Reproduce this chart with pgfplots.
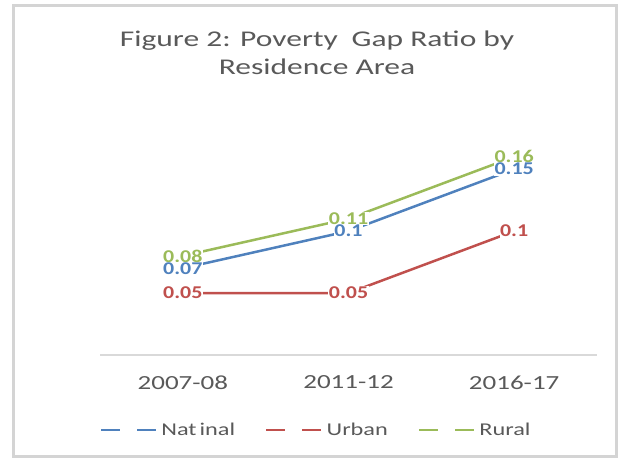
\documentclass[border=0pt]{standalone}
\usepackage{pgfplots}
\pgfplotsset{compat=1.18}
\usepackage{fontspec}
\setmainfont{Carlito}[FakeStretch=1.35]
\newfontfamily\titlefont{Carlito}[FakeStretch=1.4]
\newfontfamily\labfont{Carlito}[FakeStretch=1.22]

\definecolor{natcol}{HTML}{4F81BD}
\definecolor{urbcol}{HTML}{C0504D}
\definecolor{rurcol}{HTML}{9BBB59}
\definecolor{txtgray}{HTML}{595959}
\definecolor{axgray}{HTML}{D9D9D9}
\definecolor{framegray}{HTML}{D4D4D4}

\begin{document}
\begin{tikzpicture}[x=1bp,y=1bp]
\useasboundingbox (0,0) rectangle (621,459);
\draw[framegray, line width=2.5bp] (13.5,2.5) rectangle (616.5,453.5);

% chart title
\node[anchor=base, text=txtgray, font=\titlefont\fontsize{22.5bp}{27bp}\selectfont] at (317,412) {Figure 2: Poverty\hspace{0.3em} Gap Ratio by};
\node[anchor=base, text=txtgray, font=\titlefont\fontsize{22.5bp}{27bp}\selectfont] at (317,384) {Residence Area};

\begin{axis}[
  at={(100bp,104bp)}, anchor=south west,
  scale only axis, width=497bp, height=223bp,
  xmin=-0.5, xmax=2.5, ymin=0, ymax=0.18,
  axis y line=none, axis x line*=bottom,
  x axis line style={draw=axgray, line width=1.2bp, -},
  xtick={0,1,2}, xticklabels={2007-08,2011-12,2016-17},
  major tick length=0pt,
  xticklabel style={font=\fontsize{20bp}{24bp}\selectfont, text=txtgray, yshift=-17bp},
  clip=false,
  legend style={at={(0.435,-0.336)}, anchor=center, draw=none, fill=none,
    legend columns=-1, font=\fontsize{18bp}{21bp}\selectfont, text=txtgray,
    /tikz/every even column/.append style={column sep=28bp},
    /tikz/every odd column/.append style={column sep=-3bp}},
  legend image code/.code={
    \draw[#1, dash pattern=on 19bp off 17bp] (0bp,0bp) -- (60bp,0bp);},
  every axis plot/.append style={line width=2.5bp},
]
\addplot[natcol, mark=none] coordinates {(0,0.07) (1,0.1) (2,0.15)};
\addlegendentry{Nat\,inal}
\addplot[urbcol, mark=none] coordinates {(0,0.05) (1,0.05) (2,0.1)};
\addlegendentry{Urban}
\addplot[rurcol, mark=none] coordinates {(0,0.08) (1,0.11) (2,0.16)};
\addlegendentry{Rural}

% value labels, centred on the points over a white patch
\pgfplotsset{valuelabels/.style={forget plot, draw=none, mark=none,
  point meta=explicit symbolic, nodes near coords,
  nodes near coords style={anchor=center, fill=white, inner sep=0.6bp,
    font=\labfont\bfseries\fontsize{18bp}{20bp}\selectfont, text=#1}}}
\addplot[valuelabels=rurcol] coordinates {(0,0.08) [0.08] (1,0.11) [0.11] (2,0.16) [0.16]};
\addplot[valuelabels=urbcol] coordinates {(0,0.05) [0.05] (1,0.05) [0.05] (2,0.1) [0.1]};
\addplot[valuelabels=natcol] coordinates {(0,0.07) [0.07] (1,0.1) [0.1] (2,0.15) [0.15]};
\end{axis}
\end{tikzpicture}
\end{document}
